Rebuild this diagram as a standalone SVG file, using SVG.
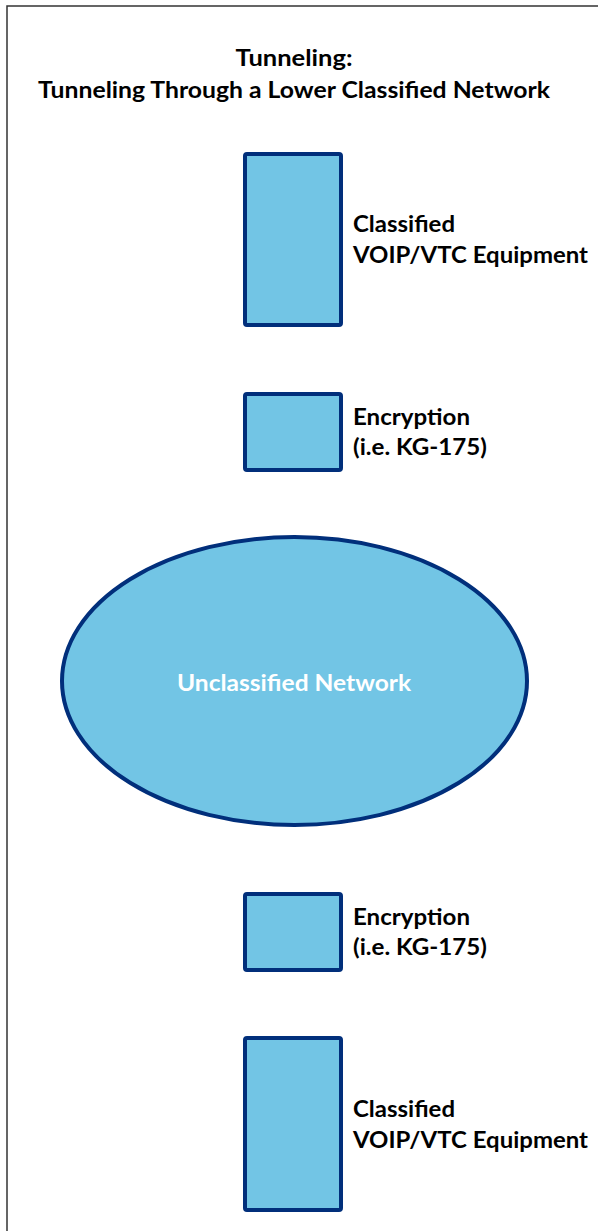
<svg xmlns="http://www.w3.org/2000/svg" width="598" height="1231" viewBox="0 0 598 1231">
<style>
.box{fill:#72C5E5;stroke:#012F7B;stroke-width:4}
.lbl{font-family:Lato,"Liberation Sans",sans-serif;font-weight:bold;font-size:22px;fill:#000}
.ttl{font-family:Lato,"Liberation Sans",sans-serif;font-weight:bold;font-size:22px;fill:#000;text-anchor:middle}
.net{font-family:Lato,"Liberation Sans",sans-serif;font-weight:bold;font-size:22px;fill:#fff;text-anchor:middle}
</style>
<rect width="598" height="1231" fill="#fff"/>
<path d="M7,1231 V6 H598" fill="none" stroke="#333" stroke-width="1.5"/>
<g id="title">
<text class="ttl" x="294" y="66" textLength="117" lengthAdjust="spacingAndGlyphs">Tunneling:</text>
<text class="ttl" x="294" y="98" textLength="512" lengthAdjust="spacingAndGlyphs">Tunneling Through a Lower Classified Network</text>
</g>
<g id="equip-top">
<rect class="box" x="245" y="154" width="96" height="171" rx="2"/>
<text class="lbl" x="353" y="232" textLength="102" lengthAdjust="spacingAndGlyphs">Classified</text>
<text class="lbl" x="353" y="263" textLength="235" lengthAdjust="spacingAndGlyphs">VOIP/VTC Equipment</text>
</g>
<g id="enc-top">
<rect class="box" x="245" y="394" width="96" height="76" rx="2"/>
<text class="lbl" x="353" y="425" textLength="117" lengthAdjust="spacingAndGlyphs">Encryption</text>
<text class="lbl" x="353" y="455" textLength="134" lengthAdjust="spacingAndGlyphs">(i.e. KG-175)</text>
</g>
<g id="network">
<ellipse class="box" cx="294.5" cy="681" rx="232.5" ry="144"/>
<text class="net" x="294" y="691" textLength="234" lengthAdjust="spacingAndGlyphs">Unclassified Network</text>
</g>
<g id="enc-bottom">
<rect class="box" x="245" y="894" width="96" height="76" rx="2"/>
<text class="lbl" x="353" y="925" textLength="117" lengthAdjust="spacingAndGlyphs">Encryption</text>
<text class="lbl" x="353" y="955" textLength="134" lengthAdjust="spacingAndGlyphs">(i.e. KG-175)</text>
</g>
<g id="equip-bottom">
<rect class="box" x="245" y="1038" width="96" height="172" rx="2"/>
<text class="lbl" x="353" y="1117" textLength="102" lengthAdjust="spacingAndGlyphs">Classified</text>
<text class="lbl" x="353" y="1148" textLength="235" lengthAdjust="spacingAndGlyphs">VOIP/VTC Equipment</text>
</g>
<g id="connectors"></g>
</svg>
